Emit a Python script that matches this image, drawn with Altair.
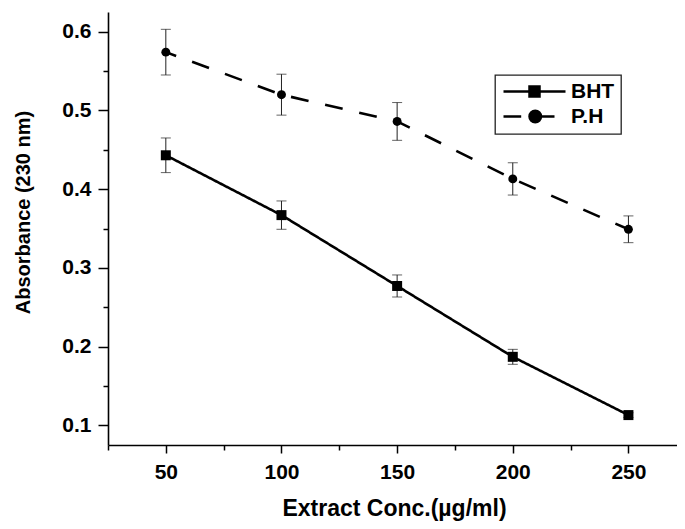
import altair as alt
import pandas as pd

# ---- data ----
conc = [50, 100, 150, 200, 250]
bht = [0.443, 0.367, 0.277, 0.187, 0.113]
bht_err = [0.022, 0.018, 0.014, 0.0095, 0.003]
ph = [0.574, 0.520, 0.486, 0.413, 0.349]
ph_err = [0.029, 0.026, 0.024, 0.0205, 0.017]
series_names = ["BHT", "P.H"]
x_ticks = [25, 50, 75, 100, 125, 150, 175, 200, 225, 250]
y_ticks = [0.1, 0.15, 0.2, 0.25, 0.3, 0.35, 0.4, 0.45, 0.5, 0.55, 0.6]

rows = []
for name, vals, errs in [("BHT", bht, bht_err), ("P.H", ph, ph_err)]:
    for c, v, e in zip(conc, vals, errs):
        rows.append({"series": name, "conc": c, "value": v,
                     "lo": v - e, "hi": v + e, "hide": 0})
df = pd.DataFrame(rows)

FONT = "Liberation Sans"

xscale = alt.Scale(domain=[25, 271], nice=False, zero=False)
yscale = alt.Scale(domain=[0.075, 0.625], nice=False, zero=False)

x_axis = alt.Axis(
    title="Extract Conc.(µg/ml)", values=x_ticks,
    labelExpr="datum.value % 50 === 0 ? datum.label : ''",
    tickSize={"condition": {"test": "datum.value % 50 === 0", "value": 8}, "value": 5},
    labelPadding=8, titleX=286, titleY=70, titleBaseline="alphabetic",
    titleAlign="center", titleFontSize=23, labelFontSize=21,
)
y_axis = alt.Axis(
    title="Absorbance (230 nm)", values=y_ticks, format=".1f",
    labelExpr="abs(datum.value*10 - round(datum.value*10)) < 0.001 ? datum.label : ''",
    tickSize={"condition": {"test": "abs(datum.value*10 - round(datum.value*10)) < 0.001",
                            "value": 10}, "value": 5},
    labelPadding=7, titleAngle=270, titleX=-79, titleY=200,
    titleBaseline="alphabetic", titleAlign="center", titleFontSize=20,
    labelFontSize=21,
)

base = alt.Chart(df)
X = alt.X("conc:Q", scale=xscale, axis=x_axis)
Y = alt.Y("value:Q", scale=yscale, axis=y_axis)

lines = base.mark_line(color="black", strokeWidth=2.6, strokeDashOffset=7).encode(
    x=X, y=Y,
    strokeDash=alt.StrokeDash("series:N", scale=alt.Scale(domain=series_names,
                              range=[[1, 0], [18, 17]]), legend=None),
)

err_rules = base.mark_rule(color="#222222", strokeWidth=1).encode(
    x="conc:Q", y="lo:Q", y2="hi:Q")
err_lo = base.mark_tick(color="#222222", thickness=1, size=10, orient="horizontal").encode(
    x="conc:Q", y="lo:Q")
err_hi = base.mark_tick(color="#222222", thickness=1, size=10, orient="horizontal").encode(
    x="conc:Q", y="hi:Q")

points = base.mark_point(filled=True, color="black", opacity=1).encode(
    x="conc:Q", y="value:Q",
    shape=alt.Shape("series:N", scale=alt.Scale(domain=series_names,
                    range=["square", "circle"]), legend=None),
    size=alt.Size("series:N", scale=alt.Scale(domain=series_names, range=[100, 80]),
                  legend=None),
)

# legend glyphs (line + marker), drawn with strokes only (unit = 5 px)
bht_sym = ("M-6.2,0H6.2"
           "M-1,-1H1V1H-1Z"
           "M-0.55,-0.55H0.55V0.55H-0.55Z"
           "M-0.15,-0.15H0.15V0.15H-0.15Z")
ph_sym = ("M-6.2,0H-2.66M1.4,0H4.0"
          "M1.3,0A1.15,1.15 0 1,1 -1.0,0A1.15,1.15 0 1,1 1.3,0Z"
          "M0.85,0A0.7,0.7 0 1,1 -0.55,0A0.7,0.7 0 1,1 0.85,0Z"
          "M0.4,0A0.25,0.25 0 1,1 -0.1,0A0.25,0.25 0 1,1 0.4,0Z")

legend_layer = base.mark_point(filled=False, color="black", strokeWidth=2.5).encode(
    x="conc:Q", y="value:Q",
    opacity=alt.Opacity("hide:Q", scale=alt.Scale(domain=[0, 1], range=[0, 0]),
                        legend=None),
    shape=alt.Shape("series:N", scale=alt.Scale(domain=series_names,
                    range=[bht_sym, ph_sym]),
                    legend=alt.Legend(
                        title=None, orient="none", legendX=387, legendY=63,
                        symbolSize=100, symbolOffset=23, labelOffset=26,
                        symbolOpacity=1, symbolStrokeWidth=2.5,
                        symbolStrokeColor="black",
                        labelExpr="datum.label + '\u00a0\u00a0\u00a0'",
                        labelFont=FONT, labelFontSize=21, labelFontWeight="bold",
                        labelColor="black", padding=6, rowPadding=3,
                        strokeColor="#222222",
                        fillColor="white",
                    )),
)

chart = alt.layer(lines, err_rules, err_lo, err_hi, points, legend_layer).resolve_scale(
    shape="independent", size="independent"
).properties(
    width=569, height=433,
    autosize=alt.AutoSizeParams(type="none"),
    padding={"left": 100, "top": 4, "right": 0, "bottom": 76},
).configure_view(strokeWidth=0).configure_axis(
    domainColor="black", domainWidth=1.6, tickColor="black", tickWidth=1.5,
    labelFont=FONT, labelFontWeight="bold", labelColor="black",
    titleFont=FONT, titleFontWeight="bold", titleColor="black", grid=False,
).configure_legend(strokeWidth=1.3, cornerRadius=0)

chart.save("out.html", embed_options={"renderer": "svg", "actions": False})
